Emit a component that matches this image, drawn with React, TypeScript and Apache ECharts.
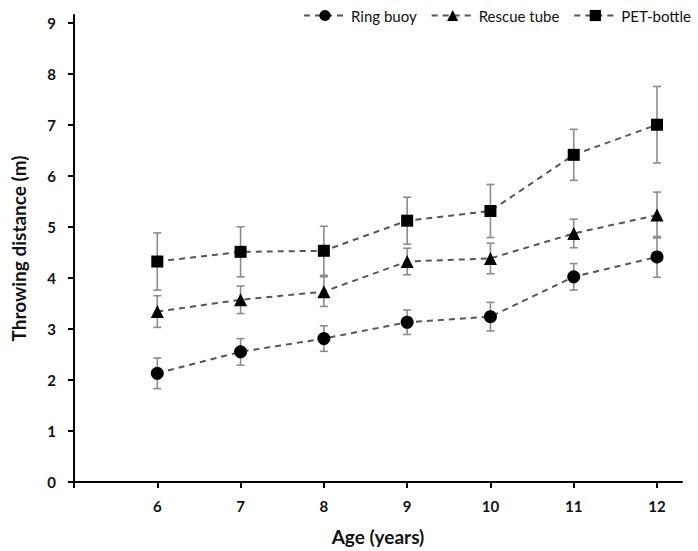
import React, { useEffect, useRef } from "react";
import * as echarts from "echarts";

const ages = [6, 7, 8, 9, 10, 11, 12];
const ringBuoy = [2.13, 2.55, 2.81, 3.13, 3.24, 4.02, 4.41];
const ringBuoySD = [0.3, 0.26, 0.25, 0.24, 0.28, 0.26, 0.4];
const rescueTube = [3.34, 3.57, 3.73, 4.32, 4.38, 4.87, 5.23];
const rescueTubeSD = [0.31, 0.27, 0.29, 0.26, 0.3, 0.28, 0.45];
const petBottle = [4.32, 4.51, 4.53, 5.12, 5.31, 6.41, 7.0];
const petBottleSD = [0.56, 0.49, 0.48, 0.46, 0.52, 0.5, 0.75];
const yTicks = [0, 1, 2, 3, 4, 5, 6, 7, 8, 9];
const xTicks = [5, 6, 7, 8, 9, 10, 11, 12];
const xLabels = [6, 7, 8, 9, 10, 11, 12];

const FONT = "Lato, 'Liberation Sans', sans-serif";

function errData(means: number[], sds: number[]) {
  return ages.map((a, i) => [a, means[i] - sds[i], means[i] + sds[i]]);
}

function errSeries(name: string, means: number[], sds: number[]) {
  return {
    type: "custom",
    name: name + " SD",
    z: 1,
    silent: true,
    encode: { x: 0, y: [1, 2] },
    data: errData(means, sds),
    renderItem: (params: any, api: any) => {
      const x = api.value(0);
      const lo = api.coord([x, api.value(1)]);
      const hi = api.coord([x, api.value(2)]);
      const cap = 4;
      const style = { stroke: "#8c8c8c", lineWidth: 1.6 };
      return {
        type: "group",
        children: [
          { type: "line", shape: { x1: lo[0], y1: lo[1], x2: hi[0], y2: hi[1] }, style },
          { type: "line", shape: { x1: lo[0] - cap, y1: lo[1], x2: lo[0] + cap, y2: lo[1] }, style },
          { type: "line", shape: { x1: hi[0] - cap, y1: hi[1], x2: hi[0] + cap, y2: hi[1] }, style },
        ],
      };
    },
  };
}

function lineSeries(name: string, values: number[], symbol: string, size: number) {
  return {
    type: "line",
    name,
    z: 3,
    data: ages.map((a, i) => [a, values[i]]),
    symbol,
    symbolSize: size,
    itemStyle: { color: "#000" },
    lineStyle: { color: "#555", width: 2, type: [6, 5] },
  };
}

export default function App() {
  const ref = useRef<HTMLDivElement>(null);
  useEffect(() => {
    document.body.style.margin = "0";
    const chart = echarts.init(ref.current!, null, { renderer: "svg" });
    chart.setOption({
      animation: false,
      backgroundColor: "#fff",
      grid: { left: 74, right: 16, top: 15, bottom: 68 },
      legend: {
        right: 2,
        top: 3,
        itemWidth: 42,
        itemHeight: 14,
        itemGap: 14,
        data: ["Ring buoy", "Rescue tube", "PET-bottle"],
        textStyle: { fontFamily: FONT, fontSize: 15, color: "#111" },
      },
      xAxis: {
        type: "value",
        min: 5,
        max: 12.3,
        interval: 1,
        name: "Age (years)",
        nameLocation: "middle",
        nameGap: 45,
        nameTextStyle: { fontFamily: FONT, fontSize: 19, fontWeight: "bold", color: "#111" },
        axisLine: { show: true, lineStyle: { color: "#000", width: 2 } },
        axisTick: { show: true, length: 6, lineStyle: { color: "#000", width: 2 }, customValues: xTicks },
        axisLabel: {
          customValues: xLabels,
          margin: 16,
          fontFamily: FONT,
          fontSize: 15,
          fontWeight: "bold",
          color: "#111",
        },
        splitLine: { show: false },
      },
      yAxis: {
        type: "value",
        min: 0,
        max: 9.15,
        interval: 1,
        name: "Throwing distance (m)",
        nameLocation: "middle",
        nameGap: 46,
        nameTextStyle: { fontFamily: FONT, fontSize: 19, fontWeight: "bold", color: "#111" },
        axisLine: { show: true, lineStyle: { color: "#000", width: 2 } },
        axisTick: { show: true, length: 6, lineStyle: { color: "#000", width: 2 }, customValues: yTicks },
        axisLabel: {
          customValues: yTicks,
          margin: 18,
          fontFamily: FONT,
          fontSize: 15,
          fontWeight: "bold",
          color: "#111",
        },
        splitLine: { show: false },
      },
      series: [
        errSeries("Ring buoy", ringBuoy, ringBuoySD),
        errSeries("Rescue tube", rescueTube, rescueTubeSD),
        errSeries("PET-bottle", petBottle, petBottleSD),
        lineSeries("Ring buoy", ringBuoy, "circle", 13),
        lineSeries("Rescue tube", rescueTube, "triangle", 13),
        lineSeries("PET-bottle", petBottle, "rect", 12),
      ],
    });
    return () => chart.dispose();
  }, []);
  return <div ref={ref} style={{ width: 698, height: 551 }} />;
}
